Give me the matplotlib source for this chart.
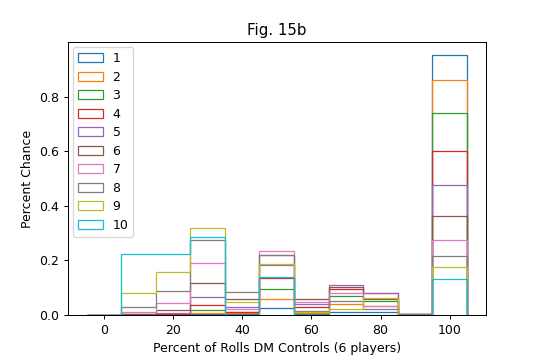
import numpy as np
import matplotlib
matplotlib.use("Agg")
import matplotlib.pyplot as plt

# bin centres (percent of rolls DM controls)
bin_centers = [0, 10, 20, 30, 40, 50, 60, 70, 80, 90, 100]
bin_edges = [-5, 5, 15, 25, 35, 45, 55, 65, 75, 85, 95, 105]

labels = ["1", "2", "3", "4", "5", "6", "7", "8", "9", "10"]

s1 = [0.000, 0.000, 0.000, 0.002, 0.002, 0.025, 0.004, 0.012, 0.012, 0.000, 0.952]
s2 = [0.000, 0.000, 0.001, 0.009, 0.006, 0.060, 0.008, 0.040, 0.034, 0.001, 0.860]
s3 = [0.000, 0.001, 0.002, 0.017, 0.010, 0.097, 0.012, 0.069, 0.050, 0.002, 0.740]
s4 = [0.000, 0.002, 0.003, 0.036, 0.011, 0.137, 0.030, 0.094, 0.082, 0.003, 0.602]
s5 = [0.000, 0.002, 0.008, 0.065, 0.029, 0.182, 0.040, 0.111, 0.082, 0.004, 0.475]
s6 = [0.000, 0.003, 0.018, 0.116, 0.058, 0.220, 0.060, 0.103, 0.058, 0.003, 0.361]
s7 = [0.000, 0.010, 0.043, 0.192, 0.021, 0.236, 0.049, 0.082, 0.034, 0.004, 0.275]
s8 = [0.001, 0.031, 0.089, 0.273, 0.084, 0.219, 0.015, 0.051, 0.021, 0.002, 0.217]
s9 = [0.001, 0.080, 0.157, 0.319, 0.048, 0.187, 0.012, 0.022, 0.061, 0.001, 0.177]
s10 = [0.000, 0.224, 0.224, 0.285, 0.000, 0.141, 0.000, 0.000, 0.000, 0.000, 0.131]

series = [s1, s2, s3, s4, s5, s6, s7, s8, s9, s10]

fig = plt.figure(figsize=(6, 4), dpi=90)
ax = fig.add_axes([0.125, 0.125, 0.775, 0.758])

for vals, lab in zip(series, labels):
    ax.hist(bin_centers, bins=bin_edges, weights=vals, histtype="step", label=lab)

ax.set_title("Fig. 15b")
ax.set_xlabel("Percent of Rolls DM Controls (6 players)")
ax.set_ylabel("Percent Chance")
ax.legend(loc="upper left", labelspacing=0.44, borderaxespad=0.4)

fig.savefig("out.png", dpi=90)
